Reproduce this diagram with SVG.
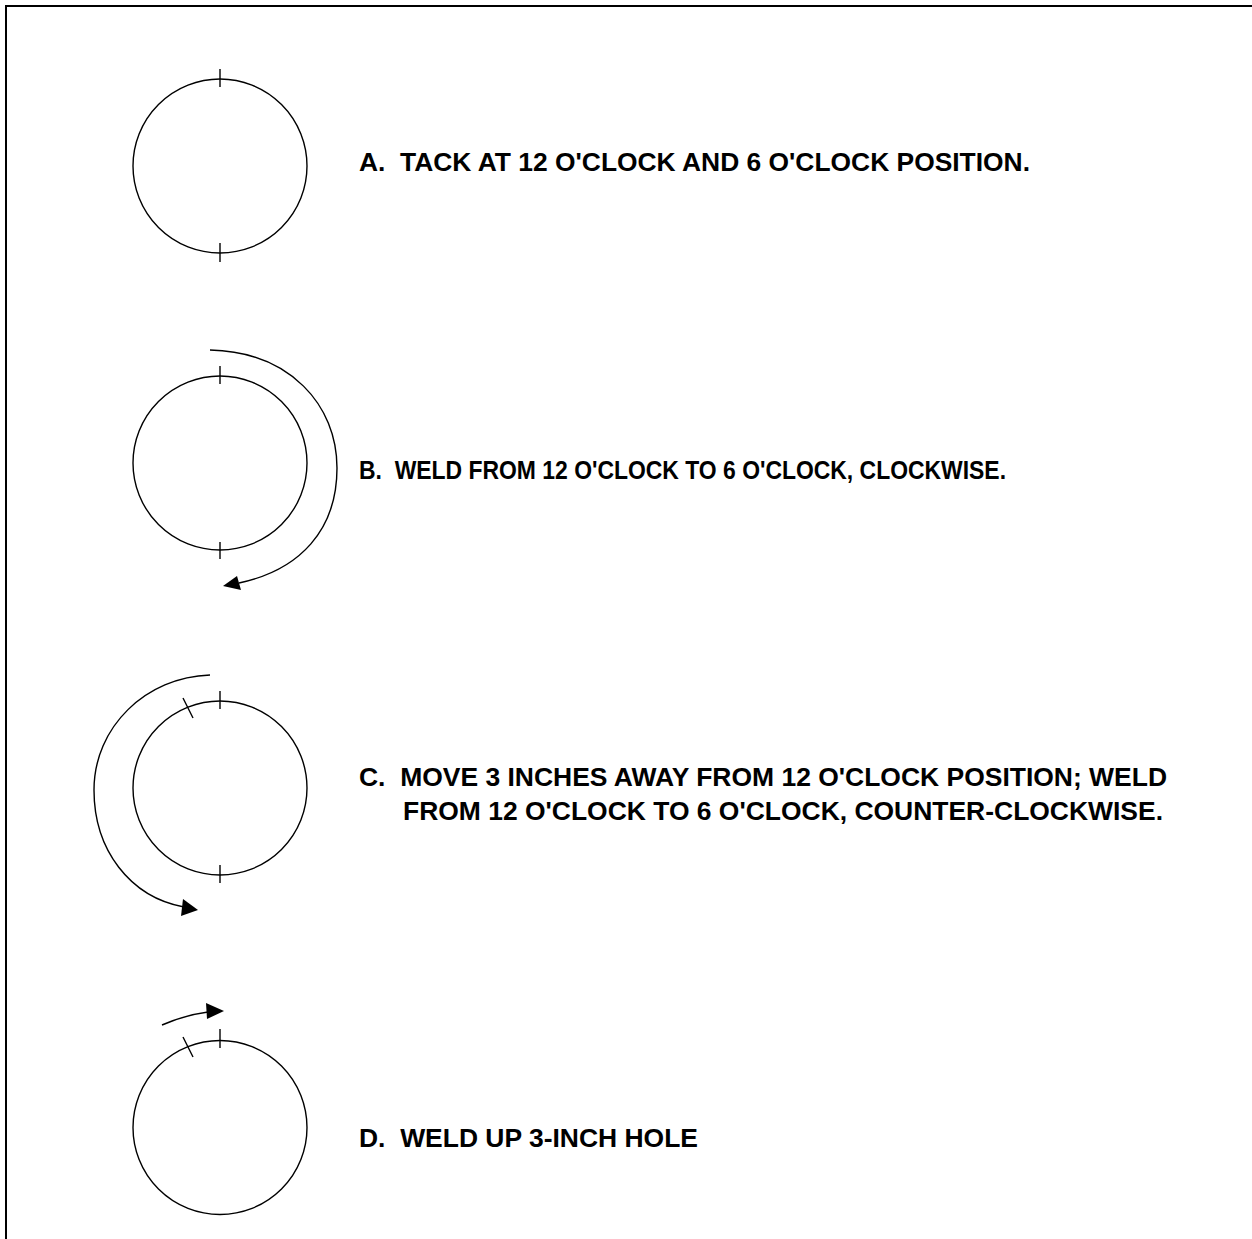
<svg xmlns="http://www.w3.org/2000/svg" width="1252" height="1239" viewBox="0 0 1252 1239">
<style>
.pipe{fill:none;stroke:#000;stroke-width:1.4}
.tick{stroke:#000;stroke-width:1.4}
.path{fill:none;stroke:#000;stroke-width:1.4}
.head{fill:#000;stroke:none}
.lbl{font-family:"Liberation Sans",Arial,sans-serif;font-weight:bold;font-size:25px;fill:#000;white-space:pre}
.frame{fill:none;stroke:#000;stroke-width:2}
</style>
<rect width="1252" height="1239" fill="#fff"/>
<path class="frame" d="M6,1239 V6 H1252"/>
<g id="stepA">
<circle class="pipe" cx="220" cy="166" r="87"/>
<line class="tick" x1="220" y1="69" x2="220" y2="87"/>
<line class="tick" x1="220" y1="243" x2="220" y2="262"/>
<text class="lbl" xml:space="preserve" x="359" y="170.5" textLength="671" lengthAdjust="spacingAndGlyphs">A.  TACK AT 12 O'CLOCK AND 6 O'CLOCK POSITION.</text>
</g>
<g id="stepB">
<circle class="pipe" cx="220" cy="463" r="87"/>
<line class="tick" x1="220" y1="366" x2="220" y2="384"/>
<line class="tick" x1="220" y1="542" x2="220" y2="559"/>
<text class="lbl" xml:space="preserve" x="359" y="479" textLength="647" lengthAdjust="spacingAndGlyphs">B.  WELD FROM 12 O'CLOCK TO 6 O'CLOCK, CLOCKWISE.</text>
</g>
<g id="stepC">
<circle class="pipe" cx="220" cy="788" r="87"/>
<line class="tick" x1="220" y1="691" x2="220" y2="709"/>
<line class="tick" x1="220" y1="865" x2="220" y2="883"/>
<line class="tick" x1="183" y1="698" x2="193" y2="718"/>
<text class="lbl" xml:space="preserve" x="359" y="786" textLength="808" lengthAdjust="spacingAndGlyphs">C.  MOVE 3 INCHES AWAY FROM 12 O'CLOCK POSITION; WELD</text>
<text class="lbl" xml:space="preserve" x="403" y="820" textLength="760" lengthAdjust="spacingAndGlyphs">FROM 12 O'CLOCK TO 6 O'CLOCK, COUNTER-CLOCKWISE.</text>
</g>
<g id="stepD">
<circle class="pipe" cx="220" cy="1127.5" r="87"/>
<line class="tick" x1="220" y1="1029" x2="220" y2="1048"/>
<line class="tick" x1="183" y1="1037" x2="193" y2="1057"/>
<text class="lbl" xml:space="preserve" x="359" y="1147" textLength="339" lengthAdjust="spacingAndGlyphs">D.  WELD UP 3-INCH HOLE</text>
</g>
<g id="connectors">
<path class="path" d="M210,350 C290,352 337,405 337,468 C337,530 300,570 239,583"/>
<polygon class="head" points="223,586 237,576 241,590"/>
<path class="path" d="M210,675 C146,677 94,727 94,790 C94,850 130,897 184,907"/>
<polygon class="head" points="198,910 183,899 181,916"/>
<path class="path" d="M162,1025 Q185,1015 208,1012"/>
<polygon class="head" points="224,1011 206,1003 207,1019"/>
</g>
</svg>
